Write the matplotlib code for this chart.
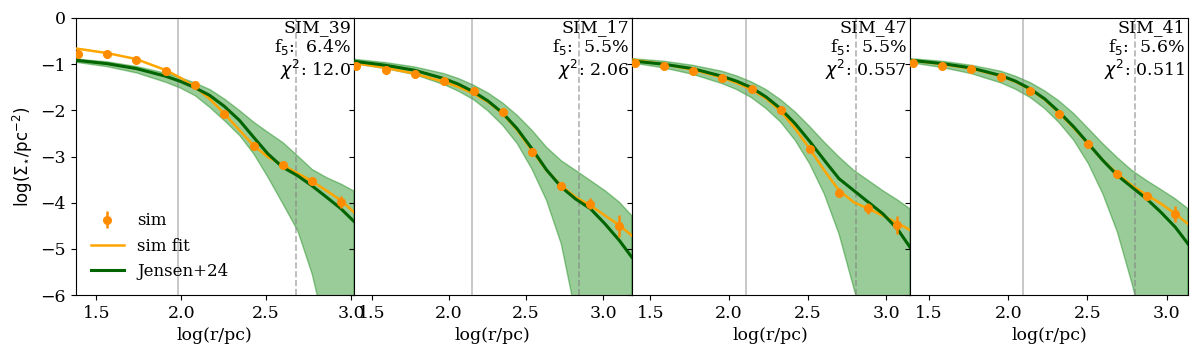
import numpy as numpy
import matplotlib
matplotlib.use( "Agg" )
import matplotlib.pyplot as plt

# simulation names and fit statistics
names = ["SIM_39", "SIM_17", "SIM_47", "SIM_41"]
f5 = ["6.4", "5.5", "5.5", "5.6"]
chi2 = ["12.0", "2.06", "0.557", "0.511"]

# vertical markers : solid and dashed radius ( log r/pc )
rsolid = [1.982, 2.149, 2.109, 2.096]
rdash = [2.678, 2.844, 2.811, 2.797]

# model grids ( log r/pc ) with sim fit, Jensen+24 and its band
xg1 = [1.378, 1.563, 1.735, 1.909, 1.993, 2.080, 2.167, 2.254, 2.343, 2.426, 2.510, 2.597, 2.684, 2.769, 2.856, 2.941, 3.016]
fit1 = [-0.66, -0.76, -0.89, -1.13, -1.29, -1.49, -1.75, -2.07, -2.43, -2.76, -3.01, -3.18, -3.36, -3.53, -3.74, -3.95, -4.20]
jen1 = [-0.915, -0.99, -1.096, -1.262, -1.37, -1.508, -1.674, -1.913, -2.217, -2.58, -2.94, -3.23, -3.41, -3.63, -3.88, -4.13, -4.40]
up1 = [-0.88, -0.94, -1.04, -1.19, -1.28, -1.40, -1.54, -1.75, -2.00, -2.25, -2.47, -2.69, -2.98, -3.27, -3.45, -3.59, -3.74]
lo1 = [-0.95, -1.045, -1.18, -1.385, -1.508, -1.674, -1.93, -2.22, -2.54, -2.94, -3.45, -4.02, -4.60, -5.54, -6.9, -7.8, -8.6]

xg2 = [1.383, 1.589, 1.777, 1.968, 2.063, 2.160, 2.253, 2.348, 2.442, 2.537, 2.632, 2.727, 2.820, 2.916, 3.011, 3.104, 3.184]
fit2 = [-0.973, -1.08, -1.205, -1.385, -1.494, -1.64, -1.82, -2.07, -2.43, -2.87, -3.30, -3.63, -3.88, -4.06, -4.28, -4.49, -4.71]
jen2 = [-0.937, -1.024, -1.132, -1.313, -1.436, -1.60, -1.798, -2.058, -2.40, -2.83, -3.29, -3.66, -3.92, -4.13, -4.46, -4.82, -5.18]
up2 = [-0.893, -0.966, -1.06, -1.205, -1.313, -1.457, -1.624, -1.841, -2.108, -2.43, -2.80, -3.09, -3.30, -3.52, -3.74, -3.99, -4.28]
lo2 = [-0.99, -1.096, -1.226, -1.443, -1.588, -1.77, -2.014, -2.325, -2.72, -3.27, -3.95, -4.89, -6.4, -7.3, -8.2, -9.0, -9.7]

xg3 = [1.381, 1.585, 1.768, 1.955, 2.049, 2.143, 2.236, 2.328, 2.421, 2.513, 2.606, 2.700, 2.794, 2.887, 2.979, 3.072, 3.151]
fit3 = [-0.901, -1.002, -1.118, -1.291, -1.407, -1.551, -1.747, -2.014, -2.398, -2.831, -3.30, -3.736, -3.99, -4.13, -4.28, -4.44, -4.59]
jen3 = [-0.93, -1.002, -1.096, -1.262, -1.37, -1.508, -1.711, -1.964, -2.29, -2.67, -3.08, -3.48, -3.736, -3.99, -4.24, -4.57, -4.96]
up3 = [-0.88, -0.937, -1.024, -1.154, -1.255, -1.385, -1.551, -1.769, -2.036, -2.35, -2.69, -3.01, -3.30, -3.52, -3.74, -3.94, -4.13]
lo3 = [-0.973, -1.082, -1.22, -1.42, -1.551, -1.725, -1.964, -2.253, -2.65, -3.157, -3.81, -4.68, -5.85, -7.0, -7.9, -8.8, -9.5]

xg4 = [1.380, 1.584, 1.767, 1.955, 2.047, 2.140, 2.231, 2.321, 2.414, 2.506, 2.597, 2.689, 2.780, 2.873, 2.963, 3.054, 3.134]
fit4 = [-0.915, -1.002, -1.096, -1.262, -1.385, -1.551, -1.769, -2.058, -2.383, -2.737, -3.084, -3.374, -3.627, -3.83, -4.02, -4.24, -4.46]
jen4 = [-0.915, -0.988, -1.082, -1.248, -1.37, -1.537, -1.754, -2.036, -2.36, -2.723, -3.084, -3.41, -3.663, -3.916, -4.205, -4.53, -4.89]
up4 = [-0.88, -0.937, -1.024, -1.154, -1.262, -1.40, -1.58, -1.797, -2.072, -2.398, -2.723, -3.026, -3.30, -3.52, -3.714, -3.916, -4.13]
lo4 = [-0.966, -1.074, -1.205, -1.407, -1.544, -1.725, -1.964, -2.267, -2.65, -3.157, -3.81, -4.64, -5.74, -7.0, -7.9, -8.8, -9.5]

# simulated surface density points with errors
r1 = [1.392, 1.563, 1.735, 1.909, 2.080, 2.254, 2.426, 2.597, 2.769, 2.941]
s1 = [-0.79, -0.79, -0.915, -1.154, -1.458, -2.072, -2.766, -3.178, -3.533, -3.974]
e1 = [0.03, 0.02, 0.02, 0.02, 0.02, 0.03, 0.04, 0.05, 0.08, 0.13]

r2 = [1.398, 1.589, 1.777, 1.968, 2.160, 2.348, 2.537, 2.727, 2.916, 3.104]
s2 = [-1.04, -1.126, -1.205, -1.357, -1.588, -2.043, -2.896, -3.634, -4.017, -4.502]
e2 = [0.02, 0.02, 0.02, 0.02, 0.02, 0.03, 0.04, 0.06, 0.12, 0.23]

r3 = [1.400, 1.585, 1.768, 1.955, 2.143, 2.328, 2.513, 2.700, 2.887, 3.072]
s3 = [-0.973, -1.038, -1.147, -1.291, -1.537, -1.999, -2.831, -3.78, -4.118, -4.48]
e3 = [0.02, 0.02, 0.02, 0.02, 0.02, 0.03, 0.04, 0.10, 0.12, 0.20]

r4 = [1.401, 1.584, 1.767, 1.955, 2.140, 2.322, 2.506, 2.689, 2.873, 3.054]
s4 = [-0.966, -1.046, -1.103, -1.277, -1.573, -2.072, -2.73, -3.374, -3.844, -4.24]
e4 = [0.02, 0.02, 0.02, 0.02, 0.02, 0.03, 0.04, 0.05, 0.07, 0.17]

grids = [xg1, xg2, xg3, xg4]
fits = [fit1, fit2, fit3, fit4]
jens = [jen1, jen2, jen3, jen4]
ups = [up1, up2, up3, up4]
los = [lo1, lo2, lo3, lo4]
rs = [r1, r2, r3, r4]
ss = [s1, s2, s3, s4]
es = [e1, e2, e3, e4]

plt.rcParams['font.family'] = 'DejaVu Serif'
plt.rcParams['mathtext.fontset'] = 'dejavusans'

fig, axes = plt.subplots( 1, 4, figsize=(12, 3.59), dpi=100, sharey=True )
fig.subplots_adjust( left=0.063, right=0.99, top=0.95, bottom=0.178, wspace=0.0 )

for k, ax in enumerate( axes ) :
    xg = numpy.asarray( grids[k] )
    ax.axvline( rsolid[k], color='grey', alpha=0.5, lw=1.2 )
    ax.axvline( rdash[k], color='grey', alpha=0.6, lw=1.2, ls='--' )

    ax.fill_between( xg, los[k], ups[k], color='green', alpha=0.4 )
    ax.errorbar( rs[k], ss[k], yerr=es[k], fmt='o', color='darkorange',
                 markersize=5.5, elinewidth=1.8, label='sim', zorder=4 )
    ax.plot( xg, fits[k], '-', color='orange', lw=1.8, label='sim fit', zorder=3 )
    ax.plot( xg, jens[k], '-', color='darkgreen', lw=2.2, label='Jensen+24', zorder=3 )

    ax.set_xlim( xg[0], xg[-1] )
    ax.set_ylim( -6, 0 )
    ax.set_xticks( [1.5, 2.0, 2.5, 3.0] )
    ax.tick_params( labelsize=12.5 )
    ax.set_xlabel( "log(r/pc)", fontsize=12.5 )

    txt = names[k] + "\nf$_5$:  " + f5[k] + "%\n$\\chi^2$: " + chi2[k]
    ax.text( 0.99, 0.995, txt, transform=ax.transAxes, ha='right', va='top',
             fontsize=12.5, linespacing=1.05 )

axes[0].set_ylabel( r"$\log(\Sigma_{\star}/\mathrm{pc}^{-2})$", fontsize=12 )
hnd, lab = axes[0].get_legend_handles_labels()
order = [lab.index( "sim" ), lab.index( "sim fit" ), lab.index( "Jensen+24" )]
axes[0].legend( [hnd[i] for i in order], [lab[i] for i in order],
                loc='lower left', frameon=False, fontsize=12,
                bbox_to_anchor=(0.0, 0.0) )

plt.savefig( "out.png" )
